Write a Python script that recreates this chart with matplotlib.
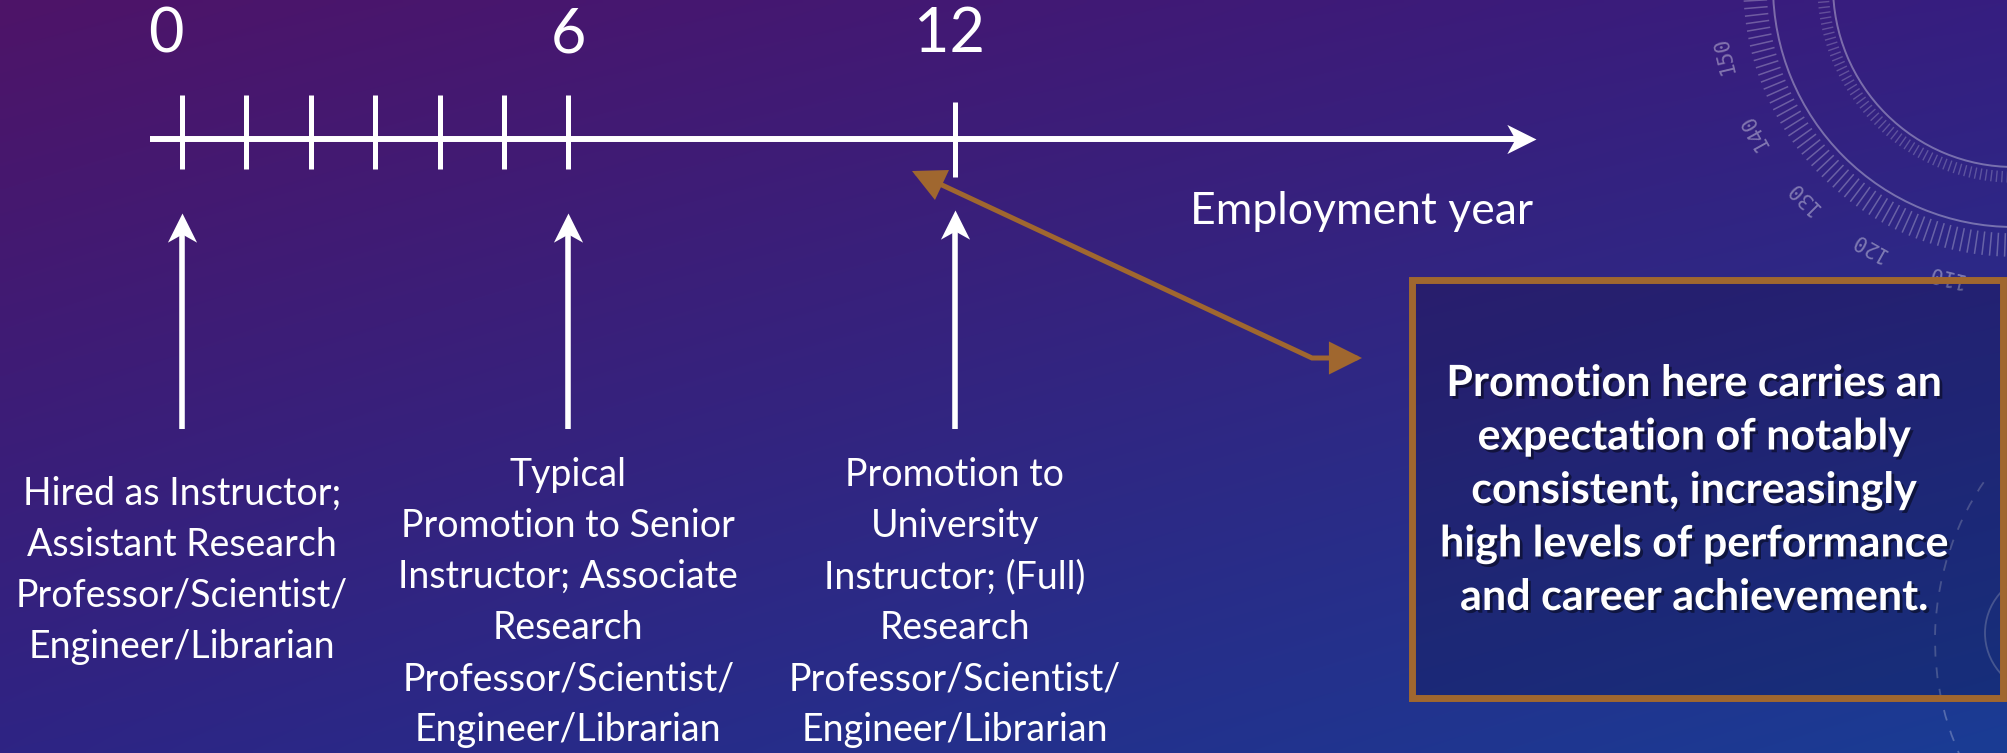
import numpy as np
import matplotlib
matplotlib.use("Agg")
import matplotlib.pyplot as plt
from matplotlib.patches import FancyArrowPatch, Rectangle, Arc
from matplotlib.path import Path
import matplotlib.patheffects as pe

# ---------------- data ----------------
tick_years = [0, 1, 2, 3, 4, 5, 6, 12]
label_years = [0, 6, 12]
label_texts = ["0", "6", "12"]
milestone_years = [0, 6, 12]
milestone_lines = [
    ["Hired as Instructor;", "Assistant Research", "Professor/Scientist/", "Engineer/Librarian"],
    ["Typical", "Promotion to Senior", "Instructor; Associate", "Research",
     "Professor/Scientist/", "Engineer/Librarian"],
    ["Promotion to", "University", "Instructor; (Full)", "Research",
     "Professor/Scientist/", "Engineer/Librarian"],
]
axis_title = "Employment year"
note_lines = ["Promotion here carries an", "expectation of notably",
              "consistent, increasingly", "high levels of performance",
              "and career achievement."]
dial_labels = ["150", "140", "130", "120", "110"]

# ---------------- style ----------------
FONT = ["Lato", "DejaVu Sans"]
WHITE = "white"
BROWN = "#A0672F"
W, H = 2007, 753

fig = plt.figure(figsize=(W / 100, H / 100), dpi=100)

# background axes in pixel units
bg = fig.add_axes([0, 0, 1, 1])
bg.set_xlim(0, W)
bg.set_ylim(H, 0)
bg.axis("off")

tl = np.array([78, 20, 104]) / 255
tr = np.array([54, 30, 128]) / 255
bl = np.array([46, 36, 132]) / 255
br = np.array([26, 60, 148]) / 255
yy, xx = np.mgrid[0:1:150j, 0:1:400j]
xx = xx[..., None]
yy = yy[..., None]
img = (tl * (1 - xx) * (1 - yy) + tr * xx * (1 - yy)
       + bl * (1 - xx) * yy + br * xx * yy)
bg.imshow(img, extent=(0, W, H, 0), aspect="auto", interpolation="bilinear", zorder=0)

# decorative dial (top right)
cx, cy = 2014, -14
for r in (241, 181):
    bg.add_patch(Arc((cx, cy), 2 * r, 2 * r, theta1=0, theta2=360,
                     color=WHITE, alpha=0.35, lw=1.4, zorder=1))
for th in np.arange(92, 182, 1.6):
    t = np.deg2rad(th)
    r1, r2 = 248, 270
    bg.plot([cx + r1 * np.cos(t), cx + r2 * np.cos(t)],
            [cy + r1 * np.sin(t), cy + r2 * np.sin(t)],
            color=WHITE, alpha=0.28, lw=1.1, zorder=1)
for th in np.arange(92, 182, 1.6):
    t = np.deg2rad(th)
    r1, r2 = 186, 196
    bg.plot([cx + r1 * np.cos(t), cx + r2 * np.cos(t)],
            [cy + r1 * np.sin(t), cy + r2 * np.sin(t)],
            color=WHITE, alpha=0.22, lw=1.0, zorder=1)
for k, lab in enumerate(dial_labels):
    th = 166.7 - k * 15.8
    t = np.deg2rad(th)
    bg.text(cx + 298 * np.cos(t), cy + 298 * np.sin(t), lab,
            rotation=270 - th, ha="center", va="center", fontsize=15,
            family=["DejaVu Sans Mono"], color=WHITE, alpha=0.38, zorder=1)
bg.add_patch(Arc((2215, 640), 560, 560, theta1=150, theta2=215, color=WHITE,
                 alpha=0.25, lw=1.3, ls=(0, (6, 6)), zorder=1))
bg.add_patch(Arc((2045, 633), 120, 120, theta1=100, theta2=260, color=WHITE,
                 alpha=0.25, lw=1.3, zorder=1))

# notched arrow-head markers (tip at the marker origin)
head_up = Path([(0, 0), (0.5, -1), (0, -0.72), (-0.5, -1), (0, 0)],
               [Path.MOVETO, Path.LINETO, Path.LINETO, Path.LINETO, Path.CLOSEPOLY])
head_right = Path([(0, 0), (-1, -0.5), (-0.72, 0), (-1, 0.5), (0, 0)],
                  [Path.MOVETO, Path.LINETO, Path.LINETO, Path.LINETO, Path.CLOSEPOLY])

# timeline axes: x in years, y in pixels
x0, s = 182.0, 64.4
ax = fig.add_axes([0, 0, 1, 1], facecolor="none")
ax.set_xlim(-x0 / s, (W - x0) / s)
ax.set_ylim(H, 0)
ax.axis("off")

axis_y = 139
axis_start, axis_end = -0.5, 21.02
ax.plot([axis_start, axis_end - 0.3], [axis_y, axis_y], color=WHITE, lw=4.3,
        solid_capstyle="butt", zorder=3)
ax.plot([axis_end], [axis_y], marker=head_right, markersize=42, color=WHITE,
        markeredgewidth=0, zorder=3)
for yr in tick_years:
    top, bot = (95, 169) if yr <= 6 else (102, 177)
    ax.plot([yr, yr], [top, bot], color=WHITE, lw=3.6, solid_capstyle="butt", zorder=3)

label_nudge = {0: -0.25, 6: 0.0, 12: -0.08}
for yr, lab in zip(label_years, label_texts):
    ax.text(yr + label_nudge[yr], 52, lab, ha="center", va="baseline", fontsize=44,
            family=FONT, color=WHITE, zorder=4)

ax.text((1190 - x0) / s, 224, axis_title, ha="left", va="baseline",
        fontsize=32, family=FONT, color=WHITE, zorder=4)

tips = {0: 213, 6: 213, 12: 210}
for yr in milestone_years:
    ax.plot([yr, yr], [429, tips[yr] + 20], color=WHITE, lw=4.0,
            solid_capstyle="butt", zorder=3)
    ax.plot([yr], [tips[yr]], marker=head_up, markersize=42, color=WHITE,
            markeredgewidth=0, zorder=3)

first_base = {0: 505, 6: 486, 12: 486}
line_gap = 51
for yr, lines in zip(milestone_years, milestone_lines):
    for i, ln in enumerate(lines):
        ax.text(yr, first_base[yr] + i * line_gap, ln, ha="center", va="baseline",
                fontsize=27, family=FONT, color=WHITE, zorder=4)

# brown connector arrow (pixel axes)
verts = [(912, 171), (1312, 358), (1362, 358)]
bg.add_patch(FancyArrowPatch(path=Path(verts, [Path.MOVETO, Path.LINETO, Path.LINETO]),
                             arrowstyle="<|-|>,head_length=0.9,head_width=0.45",
                             mutation_scale=20, lw=3.6, color=BROWN,
                             joinstyle="miter", zorder=5))

# note box
bg.add_patch(Rectangle((1412, 280), 2003 - 1412, 698 - 280, facecolor=(0, 0, 0.08, 0.18),
                       edgecolor=BROWN, lw=5, zorder=4))
for i, ln in enumerate(note_lines):
    bg.text(1694, 396 + i * 53.5, ln, ha="center", va="baseline", fontsize=31,
            fontweight="bold", family=FONT, color=WHITE, zorder=6,
            path_effects=[pe.withSimplePatchShadow(offset=(2, -2), shadow_rgbFace="black",
                                                   alpha=0.45)])

fig.savefig("out.png", dpi=100)
